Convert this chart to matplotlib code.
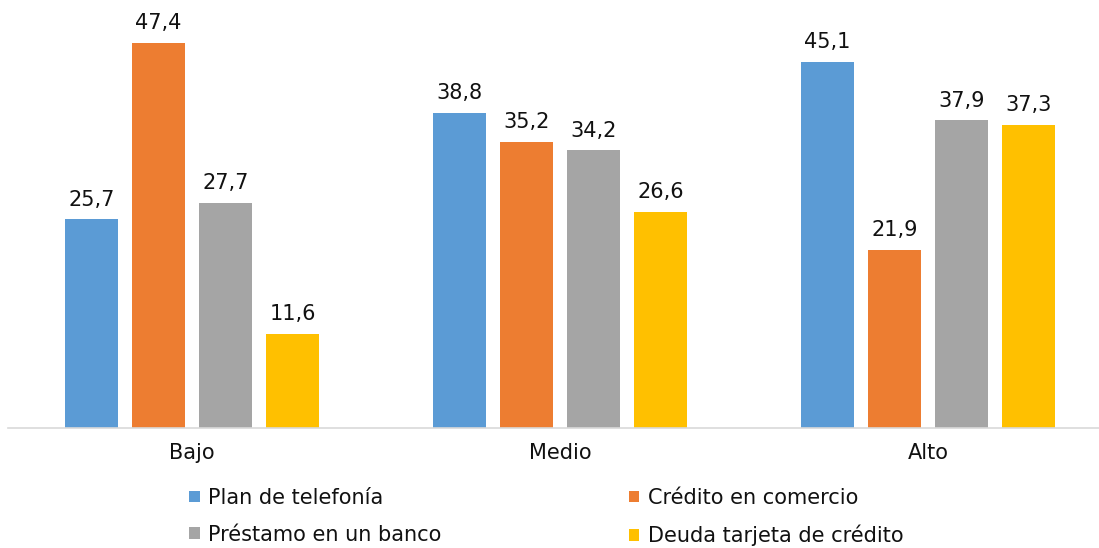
import numpy as np
import matplotlib
matplotlib.use('Agg')
import matplotlib.pyplot as plt
from matplotlib.patches import Patch

plt.rcParams['font.family'] = ['DejaVu Sans']

categorias = ['Bajo', 'Medio', 'Alto']
series = ['Plan de telefonía', 'Crédito en comercio',
          'Préstamo en un banco', 'Deuda tarjeta de crédito']
plan_telefonia = [25.7, 38.8, 45.1]
credito_comercio = [47.4, 35.2, 21.9]
prestamo_banco = [27.7, 34.2, 37.9]
deuda_tarjeta = [11.6, 26.6, 37.3]
colores = ['#5B9BD5', '#ED7D31', '#A5A5A5', '#FFC000']

valores = [plan_telefonia, credito_comercio, prestamo_banco, deuda_tarjeta]

W, H = 1099, 548
fig = plt.figure(figsize=(W / 100, H / 100), dpi=100)
# ejes: de x=8 a x=1112 px, base en y=428 px
ax = fig.add_axes([8 / W, 120 / H, 1104 / W, 406 / H])

x = np.arange(len(categorias))
paso = 0.182
ancho = 0.144
for i, (vals, col) in enumerate(zip(valores, colores)):
    pos = x + (i - 1.5) * paso
    barras = ax.bar(pos, vals, width=ancho, color=col, zorder=2)
    for b, v in zip(barras, vals):
        ax.annotate(f'{v:.1f}'.replace('.', ','),
                    (b.get_x() + b.get_width() / 2, v),
                    xytext=(0, 7), textcoords='offset points',
                    ha='center', va='bottom', fontsize=15, color='#111111')

ax.set_xlim(-0.5, 2.5)
ax.set_ylim(0, 50)
ax.set_xticks(x)
ax.set_xticklabels(categorias, fontsize=15, color='#111111')
ax.tick_params(axis='x', length=0, pad=11)
ax.set_yticks([])
for s in ['top', 'right', 'left']:
    ax.spines[s].set_visible(False)
ax.spines['bottom'].set_color('#D9D9D9')
ax.spines['bottom'].set_linewidth(1.2)

# orden por filas: matplotlib llena por columnas
orden = [0, 2, 1, 3]
handles = [Patch(facecolor=colores[k], edgecolor='none') for k in orden]
etiquetas = [series[k] for k in orden]
fig.legend(handles, etiquetas, loc='center', bbox_to_anchor=(0.497, 1 - 517 / H),
           ncol=2, frameon=False, fontsize=15, handlelength=0.5,
           handleheight=0.5, handletextpad=0.4, columnspacing=9.0,
           labelspacing=0.8, labelcolor='#111111')

fig.savefig('out.png', dpi=100)
